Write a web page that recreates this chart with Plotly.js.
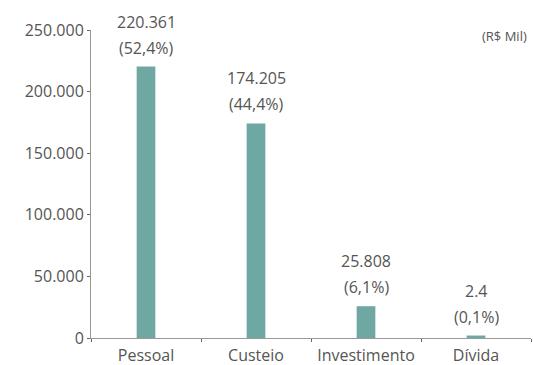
<!DOCTYPE html>
<html>
<head>
<meta charset="utf-8">
<script src="https://cdn.plot.ly/plotly-3.0.1.min.js"></script>
<style>html,body{margin:0;padding:0;background:#fff;}#chart{width:533px;height:365px;}</style>
</head>
<body>
<div id="chart"></div>
<script>
const categories = ['Pessoal', 'Custeio', 'Investimento', 'Dívida'];
const values = [220361, 174205, 25808, 2000];
const valueLabels = ['220.361', '174.205', '25.808', '2.4'];
const shareLabels = ['(52,4%)', '(44,4%)', '(6,1%)', '(0,1%)'];
const yTicks = [0, 50000, 100000, 150000, 200000, 250000];

const font = 'Open Sans, Noto Sans, sans-serif';
const textColor = '#555555';

const annotations = [];
categories.forEach((c, i) => {
  annotations.push({
    x: c, y: values[i], xref: 'x', yref: 'y',
    text: shareLabels[i], showarrow: false, yanchor: 'middle', yshift: 19,
    font: {family: font, size: 16, color: textColor}
  });
  annotations.push({
    x: c, y: values[i], xref: 'x', yref: 'y',
    text: valueLabels[i], showarrow: false, yanchor: 'middle', yshift: 45,
    font: {family: font, size: 16, color: textColor}
  });
});
annotations.push({
  x: 0.995, y: 0.98, xref: 'paper', yref: 'paper', xanchor: 'right', yanchor: 'middle',
  text: '(R$ Mil)', showarrow: false,
  font: {family: font, size: 13, color: textColor}
});

Plotly.newPlot('chart', [{
  type: 'bar', x: categories, y: values, width: 0.17,
  marker: {color: '#6fa7a3'}, hoverinfo: 'none'
}], {
  width: 533, height: 365,
  margin: {l: 91, r: 2, t: 30, b: 27},
  paper_bgcolor: '#ffffff', plot_bgcolor: '#ffffff',
  separators: ',.',
  showlegend: false,
  font: {family: font, color: textColor},
  xaxis: {
    type: 'category', range: [-0.5, 3.5],
    showline: true, linecolor: '#999999', linewidth: 1,
    ticks: 'outside', tickson: 'boundaries', ticklen: 3, tickcolor: '#666666',
    ticklabelstandoff: 3,
    showgrid: false, zeroline: false,
    tickfont: {family: font, size: 16, color: textColor}
  },
  yaxis: {
    range: [0, 250000], tickvals: yTicks, tickformat: ',d',
    showline: true, linecolor: '#999999', linewidth: 1,
    ticks: 'outside', ticklen: 3, tickcolor: '#666666',
    showgrid: false, zeroline: false,
    tickfont: {family: font, size: 16, color: textColor}
  },
  annotations: annotations
}, {displayModeBar: false, staticPlot: true});
</script>
</body>
</html>
